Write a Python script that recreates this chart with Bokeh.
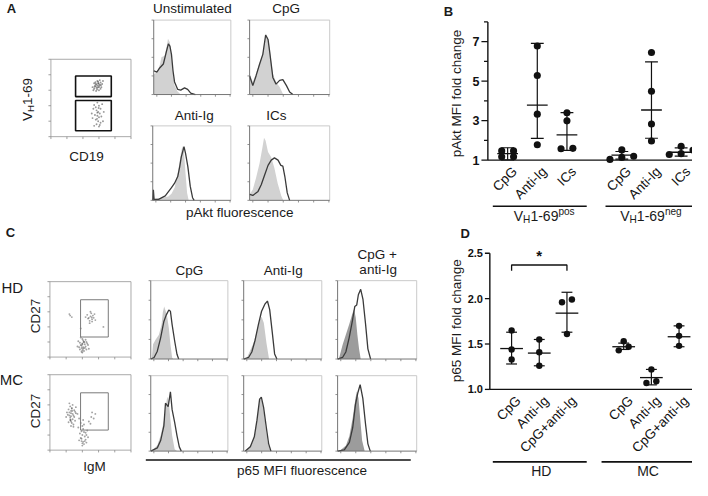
import math
from bokeh.plotting import figure
from bokeh.models import Range1d
from bokeh.core.properties import value
from bokeh.embed import file_html
from bokeh.resources import INLINE

FONT = "Liberation Sans, Arial, Helvetica, sans-serif"

# ------------------------------------------------------------------ DATA
# Panel B : pAkt MFI fold change (individual donors, mean, SD limits)
B_CATS = ["CpG", "Anti-Ig", "ICs"]
B_GROUP_SUP = ["pos", "neg"]
B_POS_CPG = [1.47, 1.47, 1.17, 1.17]
B_POS_ANTI = [6.78, 5.29, 3.33, 1.78]
B_POS_ICS = [3.40, 2.99, 1.58, 1.60]
B_NEG_CPG = [1.52, 1.20, 1.14, 1.04]
B_NEG_ANTI = [6.45, 4.49, 2.83, 1.97]
B_NEG_ICS = [1.70, 1.51, 1.33, 1.29]
B_MEAN = [1.33, 3.79, 2.28, 1.26, 3.54, 1.40]
B_SD_LO = [1.02, 2.10, 1.50, 1.05, 2.11, 1.20]
B_SD_HI = [1.63, 6.91, 3.41, 1.44, 5.98, 1.62]
B_TICKS = [1, 3, 5, 7]
B_MINOR = [2, 4, 6, 8]

# Panel D : p65 MFI fold change
D_CATS = ["CpG", "Anti-Ig", "CpG+anti-Ig"]
D_GROUPS = ["HD", "MC"]
D_HD_CPG = [1.65, 1.44, 1.33]
D_HD_ANTI = [1.55, 1.41, 1.26]
D_HD_COMBO = [1.99, 1.96, 1.61]
D_MC_CPG = [1.53, 1.47, 1.43]
D_MC_ANTI = [1.22, 1.09, 1.07]
D_MC_COMBO = [1.70, 1.59, 1.48]
D_MEAN = [1.45, 1.40, 1.84, 1.47, 1.13, 1.58]
D_SD_LO = [1.28, 1.26, 1.63, 1.44, 1.05, 1.47]
D_SD_HI = [1.63, 1.55, 2.07, 1.51, 1.22, 1.70]
D_TICKS = [1.0, 1.5, 2.0, 2.5]
D_SIG = ["*"]

# Panel A histograms (x: % of log axis, y: % of max count)
A_TITLES = ["Unstimulated", "CpG", "Anti-Ig", "ICs"]
A_UNST_FILL_X = [0, 4, 8, 10, 14, 17, 18.5, 21, 23, 25, 27, 31, 35]
A_UNST_FILL_Y = [27, 30, 40, 50, 52, 66, 75, 70, 50, 30, 12, 4, 0]
A_UNST_LINE_X = [0, 4, 8, 12.5, 16.5, 19, 21, 23, 25, 27, 31, 35, 40, 44, 48, 54]
A_UNST_LINE_Y = [32, 30, 36, 41, 58, 68, 65, 54, 32, 17, 7, 6, 9, 7, 2, 0]
A_CPG_FILL_X = [0, 4, 8, 12.5, 16.5, 20, 23, 25, 29, 33, 37.5, 41.5, 44]
A_CPG_FILL_Y = [28, 17, 28, 43, 56, 82, 76, 62, 28, 17, 10, 1, 0]
A_CPG_LINE_X = [0, 4, 8, 12.5, 16.5, 20, 23, 25, 29, 33, 37.5, 41.5, 46, 50, 54]
A_CPG_LINE_Y = [25, 12, 25, 41, 54, 80, 74, 58, 23, 14, 19, 20, 12, 3.5, 0]
A_ANTI_FILL_X = [0, 20, 24, 28, 32.5, 36, 38, 40, 42, 44, 46]
A_ANTI_FILL_Y = [1.3, 5, 9, 17, 39, 63, 73, 65, 36, 10, 0]
A_ANTI_LINE_X = [0, 0.8, 1.7, 7.5, 16, 24, 28, 32, 34.5, 36.5, 40, 42, 45, 48, 51, 53]
A_ANTI_LINE_Y = [0, 14, 1.3, 1.3, 6, 17, 23, 32, 45, 58, 72, 63, 45, 19, 3.5, 0]
A_ICS_FILL_X = [0, 4, 8, 12.5, 16, 18, 20, 23, 27, 31, 35, 39.5, 42]
A_ICS_FILL_Y = [8, 14.5, 30, 50, 71, 84, 80, 65, 58, 43, 23, 6, 0]
A_ICS_LINE_X = [0, 4, 10.5, 14.5, 18.75, 23, 27, 31, 35.5, 39, 41.5, 44, 47, 50]
A_ICS_LINE_Y = [8, 6.6, 12, 21, 34, 47, 54, 57, 54, 47, 46, 32, 10, 0]

# Panel C histograms
C_TITLES = ["CpG", "Anti-Ig"]
C_HD_CPG_FILL_X = [1.3, 3, 6.4, 10.6, 14, 15.7, 17.4, 19.1, 21.3, 23.4, 25.5, 27.7, 29]
C_HD_CPG_FILL_Y = [0, 19, 25, 31, 44, 60, 67, 62, 54, 40, 19, 2, 0]
C_HD_CPG_LINE_X = [0, 4.3, 8.5, 12.8, 17, 20, 23.4, 25.5, 27.7, 31, 34, 36.2]
C_HD_CPG_LINE_Y = [0, 2, 10, 27, 48, 56, 62.5, 61, 44, 23, 6, 0]
C_HD_ANTI_FILL_X = [4.2, 8.3, 12.5, 16.7, 20.8, 22.9, 25.8, 29.2, 32.5]
C_HD_ANTI_FILL_Y = [2, 11, 20, 35, 50, 54, 46, 20, 0]
C_HD_ANTI_LINE_X = [0, 6.25, 10.4, 14.6, 18.75, 22.9, 27.1, 30.4, 33.3, 36.7, 39.6, 42.5]
C_HD_ANTI_LINE_Y = [0, 2, 9, 24, 43.5, 61, 70, 74, 63, 33, 6.5, 0]
C_HD_COMBO_FILL_X = [2.1, 6.25, 10.4, 14.6, 18.75, 20.8, 22.9, 25, 27.1, 29.2]
C_HD_COMBO_FILL_Y = [2, 18, 31, 44, 58, 64, 53, 31, 13, 0]
C_HD_COMBO_LINE_X = [0, 6.25, 10.4, 14.6, 18.75, 21.7, 24.2, 26.25, 29.2, 32.1, 35.4, 38.3, 41.7]
C_HD_COMBO_LINE_Y = [0, 2, 9, 27, 49, 67, 69, 82, 89, 76, 44, 13, 0]
C_MC_CPG_FILL_X = [2.1, 8.5, 12.8, 17, 21.3, 23.4, 25.5, 27.7, 31, 34]
C_MC_CPG_FILL_Y = [1.3, 7.7, 20.6, 40, 72, 66, 42, 20.6, 2.6, 0]
C_MC_CPG_LINE_X = [0, 8.5, 12.8, 17, 19.1, 22.6, 25.5, 27.7, 31, 34, 37, 39.6]
C_MC_CPG_LINE_Y = [0, 4.3, 14, 33.5, 63.5, 59, 78.5, 55, 38, 20.6, 5.6, 0]
C_MC_ANTI_FILL_X = [4.3, 10.6, 14.9, 17.9, 20.4, 22.1, 24.7, 27.7, 30.6, 34]
C_MC_ANTI_FILL_Y = [2.6, 10, 25, 47, 67, 71.5, 60.5, 36, 12, 1]
C_MC_ANTI_LINE_X = [2.1, 8.5, 13.6, 17, 20.4, 22.6, 25.5, 28.9, 31.9, 34.9]
C_MC_ANTI_LINE_Y = [0, 5.7, 19, 41, 69, 71.5, 58, 32, 10, 0]
C_MC_COMBO_FILL_X = [4.3, 10.6, 14.9, 19.1, 22.6, 24.3, 26.4, 28.5, 31, 34]
C_MC_COMBO_FILL_Y = [1.7, 7.4, 20, 44, 70, 79, 70, 44, 14, 1]
C_MC_COMBO_LINE_X = [0, 8.5, 14.9, 19.1, 22.6, 25.5, 28.5, 31.9, 35.3, 38.3, 41.3]
C_MC_COMBO_LINE_Y = [0, 1.7, 11.7, 31, 62, 77, 88, 70, 36, 9.6, 0]

# Flow dot plots (log decades 0-5)
A_TOP_X = [2.9, 2.8, 3.0, 2.7, 3.1, 2.95, 2.85, 3.05, 2.75, 3.2, 2.6, 2.9, 3.0, 2.8, 3.15, 2.95, 2.7, 3.1, 2.85, 3.0, 2.92, 2.78, 3.25, 2.65, 3.05, 2.88, 2.98, 2.72, 3.12, 2.82]
A_TOP_Y = [3.3, 3.4, 3.2, 3.1, 3.5, 3.45, 3.15, 3.35, 3.3, 3.4, 3.2, 3.6, 3.0, 3.25, 3.2, 3.55, 3.45, 3.1, 3.38, 3.28, 3.18, 3.52, 3.6, 3.0, 3.65, 3.05, 3.42, 3.22, 3.32, 2.95]
A_LOW_X = [2.9, 3.0, 2.8, 3.1, 2.85, 2.95, 3.05, 2.75, 2.9, 3.0, 2.8, 2.95, 3.1, 2.85, 2.7, 3.0, 2.9, 3.2, 2.65, 3.15, 2.6, 3.3, 2.7, 3.05, 2.55, 3.25, 2.98, 2.88]
A_LOW_Y = [2.2, 2.0, 1.9, 1.8, 1.7, 1.6, 1.5, 1.4, 1.35, 1.25, 1.1, 1.0, 0.9, 0.8, 0.7, 0.65, 1.55, 2.1, 1.8, 1.3, 1.2, 1.6, 2.05, 0.75, 1.5, 1.0, 1.85, 1.15]
A_GATES = [(1.54, 3.77, 2.59, 3.92), (1.54, 3.77, 0.38, 2.34)]

C_HD_X = [2.4, 2.5, 2.6, 2.3, 2.7, 2.55, 2.45, 2.65, 2.35, 2.8, 2.5, 2.6, 2.2, 2.75, 2.45, 2.58,
          1.25, 1.35, 1.2, 3.3, 1.9,
          2.0, 2.1, 1.9, 2.2, 2.05, 1.95, 2.15, 1.85, 2.25, 2.0, 1.8, 2.3, 2.1, 1.95, 2.05, 1.75, 2.2, 2.0, 1.9, 2.15, 2.35, 1.7, 2.1, 2.0, 1.95, 2.25, 2.05, 1.85, 2.4, 2.0]
C_HD_Y = [2.6, 2.7, 2.5, 2.8, 2.6, 2.9, 2.4, 2.75, 2.55, 2.45, 3.0, 2.35, 2.65, 2.85, 2.25, 2.62,
          2.75, 2.65, 2.85, 2.0, 1.9,
          0.9, 1.0, 0.8, 0.7, 1.1, 0.6, 0.85, 0.95, 0.5, 1.2, 0.65, 0.9, 0.4, 0.75, 0.55, 1.05, 1.15, 0.3, 1.3, 0.6, 0.8, 0.7, 1.0, 0.45, 0.35, 1.0, 0.65, 0.5, 0.55, 0.85]
C_MC_X = [1.3, 1.4, 1.2, 1.5, 1.35, 1.25, 1.45, 1.15, 1.55, 1.3, 1.1, 1.6, 1.4, 1.25, 1.35, 1.05, 1.5, 1.3, 1.2, 1.45, 1.7, 1.0, 1.4, 1.3, 1.25, 1.55, 1.35, 1.15, 1.8, 1.3, 1.45, 1.2, 1.6, 1.38, 1.28,
          2.0, 2.1, 1.9, 2.2, 2.05, 1.95, 2.15, 1.85, 2.25, 2.0, 1.8, 2.3, 2.1, 1.95, 2.05, 1.75, 2.2, 2.0, 1.9, 2.15, 2.35, 2.1, 2.0, 1.95, 2.25, 2.05, 2.4, 2.55, 2.6, 2.7, 2.5, 2.8]
C_MC_Y = [2.6, 2.4, 2.5, 2.2, 2.8, 2.0, 2.3, 2.7, 2.55, 1.9, 2.35, 2.45, 3.0, 2.15, 1.8, 2.5, 2.65, 2.25, 3.1, 1.7, 2.4, 2.2, 2.05, 1.6, 2.9, 1.95, 2.75, 1.85, 2.1, 2.45, 1.55, 2.3, 2.85, 2.6, 2.0,
          1.0, 1.2, 0.8, 0.7, 1.4, 0.6, 0.9, 1.1, 0.5, 1.6, 0.65, 1.3, 0.4, 0.75, 0.55, 1.5, 1.15, 0.3, 1.8, 0.6, 0.85, 1.7, 0.45, 1.25, 1.0, 2.0, 1.9, 2.2, 2.5, 2.1, 1.75, 2.4]
C_GATE = (1.89, 3.6, 1.33, 3.8)

# ------------------------------------------------------------------ LAYOUT (reference pixel frame)
REF_W, REF_H = 700, 490
PW, PH = 692, 480
SCALE = PW / REF_W

p = figure(width=PW, height=PH, x_range=Range1d(0, REF_W), y_range=Range1d(REF_H, 0),
           x_axis_type=None, y_axis_type=None, output_backend="svg", toolbar_location=None,
           min_border=0, outline_line_color=None)
p.background_fill_color = "white"
p.border_fill_color = "white"

XR, YR = {}, {}


class Panel:
    def __init__(self, name, left, right, top, bottom, x0, x1, y0, y1):
        self.name = name
        self.l, self.r, self.t, self.b = left, right, top, bottom
        self.x0, self.y0 = x0, y0
        self.kx = (x1 - x0) / (right - left)
        self.ky = (y1 - y0) / (bottom - top)
        XR[name] = Range1d(self.dx(0), self.dx(REF_W))
        YR[name] = Range1d(self.dy(REF_H), self.dy(0))

    def dx(self, px):
        return self.x0 + (px - self.l) * self.kx

    def dy(self, py):
        return self.y0 + (self.b - py) * self.ky

    def kw(self):
        return dict(x_range_name=self.name, y_range_name=self.name)


def txt(x, y, s, size, bold=False, align="center", baseline="middle", angle=0.0, color="#1a1a1a", **kw):
    p.text(x=[x], y=[y], text=[s], text_font=value(FONT), text_font_size=f"{size}px",
           text_font_style="bold" if bold else "normal", text_align=align,
           text_baseline=baseline, angle=angle, text_color=color, **kw)


W_EM = {'V': .667, 'H': .722, '1': .556, '-': .333, '6': .556, '9': .556,
        'p': .556, 'o': .556, 's': .5, 'n': .556, 'e': .556, 'g': .556}


def tw(s, size):
    return sum(W_EM.get(c, .556) for c in s) * size / SCALE


def vh_label(x0, y0, size, sup, rotated=False):
    small = size * 0.72
    pieces = [("V", size, 0), ("H", small, 3.5), ("1-69", size, 0)]
    if sup:
        pieces.append((sup, small, -5))
    ux, uy, nx, ny = (0, -1, 1, 0) if rotated else (1, 0, 0, 1)
    adv = 0.0
    for s, sz, sh in pieces:
        txt(x0 + adv * ux + sh * nx, y0 + adv * uy + sh * ny, s, sz, align="left",
            angle=math.pi / 2 if rotated else 0.0)
        adv += tw(s, sz)


def vh_width(size, sup):
    small = size * 0.72
    return tw("V", size) + tw("H", small) + tw("1-69", size) + (tw(sup, small) if sup else 0)


LBL = 13.5

# ---------------- flow dot plots
def dot_plot(name, rect, xs, ys, gates, gate_color, gate_width, alpha):
    pan = Panel(name, rect[0], rect[1], rect[2], rect[3], 0, 5, 0, 5)
    k = pan.kw()
    p.quad(left=[0], right=[5], bottom=[0], top=[5], fill_color=None, line_color="#a0a0a0", line_width=0.9, **k)
    tl = 2.5 * pan.kx
    p.segment(x0=[0] * 6, y0=list(range(6)), x1=[-tl] * 6, y1=list(range(6)), line_color="#888", line_width=0.8, **k)
    p.segment(x0=list(range(6)), y0=[0] * 6, x1=list(range(6)), y1=[-tl] * 6, line_color="#888", line_width=0.8, **k)
    p.scatter(xs, ys, size=1.9, color="#333", alpha=alpha, line_color=None, **k)
    for g in gates:
        p.quad(left=[g[0]], right=[g[1]], bottom=[g[2]], top=[g[3]], fill_color=None,
               line_color=gate_color, line_width=gate_width, **k)
    return pan


dot_plot("adot", (51, 132, 60, 139), A_TOP_X + A_LOW_X, A_TOP_Y + A_LOW_Y, A_GATES, "#111", 1.6, 0.5)
dot_plot("chd", (50, 132, 287, 364), C_HD_X, C_HD_Y, [C_GATE], "#7a7a7a", 1.0, 0.45)
dot_plot("cmc", (50, 132, 382, 459), C_MC_X, C_MC_Y, [C_GATE], "#7a7a7a", 1.0, 0.45)


# ---------------- histograms
def hist(name, rect, fx, fy, lx, ly, fill):
    pan = Panel(name, rect[0], rect[1], rect[2], rect[3], 0, 100, 0, 100)
    k = pan.kw()
    p.line([0, 100, 100], [100, 100, 0], line_color="#c4c4c4", line_width=0.9, **k)
    p.varea(x=fx, y1=[0] * len(fx), y2=fy, fill_color=fill, **k)
    p.line(lx, ly, line_color="#3a3a3a", line_width=1.3, **k)
    p.line([0, 0, 100], [100, 0, 0], line_color="#666", line_width=0.9, **k)
    tx = 2.2 * pan.kx
    ty = 2.2 * pan.ky
    yt = [0, 25, 50, 75, 100]
    xt = [4, 23, 42, 61, 80, 99]
    p.segment(x0=[0] * 5, y0=yt, x1=[-tx] * 5, y1=yt, line_color="#777", line_width=0.8, **k)
    p.segment(x0=xt, y0=[0] * 6, x1=xt, y1=[-ty] * 6, line_color="#777", line_width=0.8, **k)


A_LIGHT = "#d2d2d2"
hist("h1", (155, 233, 20, 96), A_UNST_FILL_X, A_UNST_FILL_Y, A_UNST_LINE_X, A_UNST_LINE_Y, A_LIGHT)
hist("h2", (252, 333, 20, 96), A_CPG_FILL_X, A_CPG_FILL_Y, A_CPG_LINE_X, A_CPG_LINE_Y, A_LIGHT)
hist("h3", (154, 233, 128, 204), A_ANTI_FILL_X, A_ANTI_FILL_Y, A_ANTI_LINE_X, A_ANTI_LINE_Y, A_LIGHT)
hist("h4", (252, 333, 128, 204), A_ICS_FILL_X, A_ICS_FILL_Y, A_ICS_LINE_X, A_ICS_LINE_Y, A_LIGHT)

C_COLS = [(152, 230), (246, 325), (341, 421)]
C_ROWS = [(286, 366), (383, 460)]
C_FILLS = ["#c9c9c9", "#c9c9c9", "#9c9c9c"]
C_CURVES = [
    [(C_HD_CPG_FILL_X, C_HD_CPG_FILL_Y, C_HD_CPG_LINE_X, C_HD_CPG_LINE_Y),
     (C_HD_ANTI_FILL_X, C_HD_ANTI_FILL_Y, C_HD_ANTI_LINE_X, C_HD_ANTI_LINE_Y),
     (C_HD_COMBO_FILL_X, C_HD_COMBO_FILL_Y, C_HD_COMBO_LINE_X, C_HD_COMBO_LINE_Y)],
    [(C_MC_CPG_FILL_X, C_MC_CPG_FILL_Y, C_MC_CPG_LINE_X, C_MC_CPG_LINE_Y),
     (C_MC_ANTI_FILL_X, C_MC_ANTI_FILL_Y, C_MC_ANTI_LINE_X, C_MC_ANTI_LINE_Y),
     (C_MC_COMBO_FILL_X, C_MC_COMBO_FILL_Y, C_MC_COMBO_LINE_X, C_MC_COMBO_LINE_Y)],
]
for ri, (rt, rb) in enumerate(C_ROWS):
    for ci, (cl, cr) in enumerate(C_COLS):
        fx, fy, lx, ly = C_CURVES[ri][ci]
        hist(f"c{ri}{ci}", (cl, cr, rt, rb), fx, fy, lx, ly, C_FILLS[ci])


# ---------------- scatter dot plots with mean +/- SD
def row_offsets(vals, px_per_unit, dot, step):
    idx = sorted(range(len(vals)), key=lambda i: vals[i])
    rows = []
    for i in idx:
        if rows and (vals[i] - vals[rows[-1][0]]) * px_per_unit < 0.65 * dot:
            rows[-1].append(i)
        else:
            rows.append([i])
    offs = [0.0] * len(vals)
    for r in rows:
        n = len(r)
        for j, i in enumerate(r):
            offs[i] = (j - (n - 1) / 2) * step
    return offs


def dot_panel(pan, xpos, groups, means, lo, hi, dot, step, cap_half, mean_half):
    k = pan.kw()
    xs, ys = [], []
    for xc, vals in zip(xpos, groups):
        offs = row_offsets(vals, 1 / pan.ky, dot, step)
        for v, o in zip(vals, offs):
            xs.append(xc + o * pan.kx)
            ys.append(v)
    p.segment(x0=xpos, y0=lo, x1=xpos, y1=hi, line_color="#111", line_width=1.2, **k)
    ch, mh = cap_half * pan.kx, mean_half * pan.kx
    p.segment(x0=[x - ch for x in xpos] * 2, y0=lo + hi, x1=[x + ch for x in xpos] * 2, y1=lo + hi,
              line_color="#111", line_width=1.2, **k)
    p.segment(x0=[x - mh for x in xpos], y0=means, x1=[x + mh for x in xpos], y1=means,
              line_color="#111", line_width=1.3, **k)
    p.scatter(xs, ys, size=dot * SCALE, fill_color="#111", line_color=None, **k)


def axes(pan, axis_left, axis_right, ymin, ymax, ticks, minor, fmt, tick_size, tick_font):
    k = pan.kw()
    xl, xr = pan.dx(axis_left), pan.dx(axis_right)
    p.segment(x0=[xl], y0=[ymin], x1=[xl], y1=[ymax], line_color="#111", line_width=1.4, **k)
    p.segment(x0=[xl], y0=[ymin], x1=[xr], y1=[ymin], line_color="#111", line_width=1.4, **k)
    t = pan.dx(axis_left - tick_size)
    p.segment(x0=[xl] * len(ticks), y0=ticks, x1=[t] * len(ticks), y1=ticks, line_color="#111", line_width=1.3, **k)
    if minor:
        tm = pan.dx(axis_left - tick_size * 0.6)
        p.segment(x0=[xl] * len(minor), y0=minor, x1=[tm] * len(minor), y1=minor, line_color="#111", line_width=1.2, **k)
    p.text(x=[pan.dx(axis_left - tick_size - 2)] * len(ticks), y=ticks, text=[fmt(v) for v in ticks],
           text_font=value(FONT), text_font_size=f"{tick_font}px", text_font_style="bold",
           text_align="right", text_baseline="middle", text_color="#111", **k)


def cat_labels(pan, xpos, labels, ybase):
    k = pan.kw()
    p.text(x=xpos, y=[ybase] * len(xpos), text=labels, angle=math.pi / 4,
           text_font=value(FONT), text_font_size=f"{LBL}px", text_align="right",
           text_baseline="middle", x_offset=7, y_offset=9, text_color="#111", **k)


# Panel B
B_XPOS = [0, 1, 2, 3.85, 4.85, 5.85]
pb = Panel("b", 513, 693, 42, 163, 0, 6, 1, 7)
axes(pb, 493, 708, 1, 8, B_TICKS, B_MINOR, lambda v: f"{v:d}", 6.5, 12.5)
dot_panel(pb, B_XPOS, [B_POS_CPG, B_POS_ANTI, B_POS_ICS, B_NEG_CPG, B_NEG_ANTI, B_NEG_ICS],
          B_MEAN, B_SD_LO, B_SD_HI, 7.2, 12, 6.5, 10.5)
cat_labels(pb, B_XPOS, B_CATS * 2, 1)

# Panel D
D_XPOS = [0, 1, 2, 4.05, 5.05, 6.05]
pd_ = Panel("d", 517, 573, 258, 397, 0, 2, 1.0, 2.5)
axes(pd_, 495, 708, 1.0, 2.5, D_TICKS, None, lambda v: f"{v:.1f}", 5, 11)
dot_panel(pd_, D_XPOS, [D_HD_CPG, D_HD_ANTI, D_HD_COMBO, D_MC_CPG, D_MC_ANTI, D_MC_COMBO],
          D_MEAN, D_SD_LO, D_SD_HI, 6.5, 10, 5.5, 11.5)
cat_labels(pd_, D_XPOS, D_CATS * 2, 1.0)
# significance bracket between HD CpG and HD CpG+anti-Ig
kd = pd_.kw()
br_top, br_end = pd_.dy(270), pd_.dy(276)
p.line([D_XPOS[0], D_XPOS[0], D_XPOS[2], D_XPOS[2]], [br_end, br_top, br_top, br_end],
       line_color="#111", line_width=1.3, **kd)
p.text(x=[(D_XPOS[0] + D_XPOS[2]) / 2], y=[br_top], text=D_SIG, text_font=value(FONT),
       text_font_size="15px", text_font_style="bold", text_align="center", text_baseline="middle",
       y_offset=-9, text_color="#111", **kd)

p.extra_x_ranges = XR
p.extra_y_ranges = YR

# ---------------- canvas texts & group lines (reference pixel coordinates)
for s, x, y in [("A", 11, 8), ("B", 453, 11), ("C", 10, 237), ("D", 470, 238)]:
    txt(x, y, s, 13, bold=True)

txt(194, 8, A_TITLES[0], LBL)
txt(289, 8, A_TITLES[1], LBL)
txt(196, 117, A_TITLES[2], LBL)
txt(279, 117, A_TITLES[3], LBL)
vh_label(27, 123, LBL, None, rotated=True)
txt(87, 159, "CD19", LBL)
txt(242, 216, "pAkt fluorescence", LBL)

txt(461, 95, "pAkt MFI fold change", LBL, angle=math.pi / 2)
p.segment(x0=[498, 612], y0=[210, 210], x1=[593, 707], y1=[210, 210], line_color="#111", line_width=1.6)
for cx, sup in zip([550, 658], B_GROUP_SUP):
    vh_label(cx - vh_width(14, sup) / 2, 220, 14, sup)

txt(12, 293, D_GROUPS[0], 15)
txt(11, 387, D_GROUPS[1], 15)
txt(35, 322, "CD27", LBL, angle=math.pi / 2)
txt(35, 419, "CD27", LBL, angle=math.pi / 2)
txt(95, 476, "IgM", LBL)
txt(191, 276, C_TITLES[0], LBL)
txt(286, 276, C_TITLES[1], LBL)
txt(381, 259, "CpG +", LBL)
txt(382, 275, "anti-Ig", LBL)
p.segment(x0=[147], y0=[469], x1=[415], y1=[469], line_color="#111", line_width=1.6)
txt(305, 479.5, "p65 MFI fluorescence", LBL)

txt(461, 327, "p65 MFI fold change", LBL, angle=math.pi / 2)
p.segment(x0=[498, 608], y0=[471, 471], x1=[593, 703], y1=[471, 471], line_color="#111", line_width=1.6)
txt(547, 480, D_GROUPS[0], 14)
txt(655, 480, D_GROUPS[1], 14)

open("out.html", "w").write(file_html(p, INLINE))
